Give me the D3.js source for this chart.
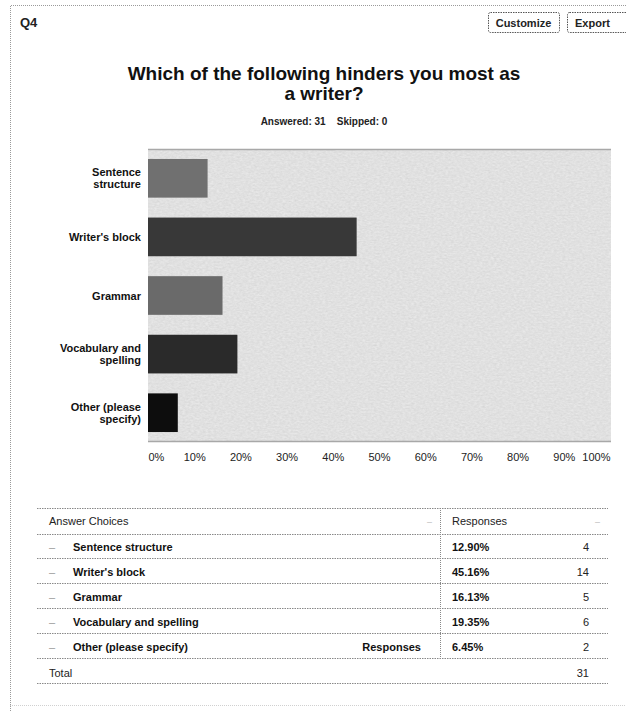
<!DOCTYPE html>
<html>
<head>
<meta charset="utf-8">
<script src="https://cdn.jsdelivr.net/npm/d3@7"></script>
<style>
  html, body { margin: 0; padding: 0; background: #fff; }
  svg { display: block; font-family: "Liberation Sans", Arial, sans-serif; }
</style>
</head>
<body>
<svg id="chart" width="626" height="711"></svg>
<script>
// Survey question data
const questionId = "Q4";
const titleLines = ["Which of the following hinders you most as", "a writer?"];
const summaryText = "Answered: 31    Skipped: 0";
const categories = ["Sentence structure", "Writer's block", "Grammar", "Vocabulary and spelling", "Other (please specify)"];
const axisLabelLines = [["Sentence", "structure"], ["Writer's block"], ["Grammar"], ["Vocabulary and", "spelling"], ["Other (please", "specify)"]];
const percents = [12.90, 45.16, 16.13, 19.35, 6.45];
const counts = [4, 14, 5, 6, 2];
const totalCount = 31;
const xTicks = [0, 10, 20, 30, 40, 50, 60, 70, 80, 90, 100];
const barColors = ["#707070", "#383838", "#6a6a6a", "#2c2c2c", "#0e0e0e"];

const svg = d3.select("#chart");
const defs = svg.append("defs");

// grainy texture for the plot background
const grain = defs.append("filter").attr("id", "grain").attr("x", 0).attr("y", 0).attr("width", 1).attr("height", 1);
grain.append("feTurbulence").attr("type", "fractalNoise").attr("baseFrequency", "0.35 0.6").attr("numOctaves", 2).attr("seed", 4).attr("result", "n");
grain.append("feColorMatrix").attr("in", "n").attr("type", "matrix")
  .attr("values", "0 0 0 0 0.6  0 0 0 0 0.6  0 0 0 0 0.6  0.45 0.45 0.45 0 -0.4").attr("result", "g");
grain.append("feComposite").attr("in", "g").attr("in2", "SourceGraphic").attr("operator", "in").attr("result", "gm");
grain.append("feMerge").selectAll("feMergeNode").data(["SourceGraphic", "gm"]).join("feMergeNode").attr("in", d => d);

const soft = defs.append("filter").attr("id", "soft");
soft.append("feGaussianBlur").attr("stdDeviation", 0.6);

const dotted = { stroke: "#8a8a8a", dash: "1.5,1" };

// card frame
svg.append("path")
  .attr("d", "M10.5,711 V5.5 H626")
  .attr("fill", "none").attr("stroke", "#9a9a9a").attr("stroke-dasharray", "1,1");
svg.append("line").attr("x1", 10).attr("x2", 626).attr("y1", 705.5).attr("y2", 705.5)
  .attr("stroke", "#d0d0d0").attr("stroke-dasharray", "1,1");

// header
svg.append("text").attr("x", 20).attr("y", 27).attr("font-size", 13).attr("font-weight", "bold").attr("fill", "#222").text(questionId);

const buttons = [{ label: "Customize", x0: 488, x1: 559 }, { label: "Export", x0: 567, x1: 630 }];
buttons.forEach(b => {
  svg.append("rect").attr("x", b.x0 + 0.5).attr("y", 12.5).attr("width", b.x1 - b.x0).attr("height", 20).attr("rx", 2)
    .attr("fill", "#fff").attr("stroke", "#555").attr("stroke-dasharray", "1.5,1");
  svg.append("text").attr("x", b.label === "Export" ? 575 : (b.x0 + b.x1) / 2).attr("y", 26.5)
    .attr("text-anchor", b.label === "Export" ? "start" : "middle")
    .attr("font-size", 11).attr("font-weight", "bold").attr("fill", "#222").text(b.label);
});

// title
svg.append("text").attr("text-anchor", "middle").attr("font-size", 19).attr("font-weight", "bold").attr("fill", "#111")
  .selectAll("tspan").data(titleLines).join("tspan")
  .attr("x", 324).attr("y", (d, i) => 80 + i * 20).text(d => d);

svg.append("text").attr("x", 324).attr("y", 125).attr("text-anchor", "middle").attr("font-size", 10).attr("font-weight", "bold")
  .attr("fill", "#222").attr("xml:space", "preserve").text(summaryText);

// bar chart
const plot = { left: 148, right: 611, top: 149, bottom: 442 };
const x = d3.scaleLinear().domain([0, 100]).range([plot.left, 610]);
const y = d3.scaleBand().domain(categories).range([plot.top, plot.bottom]).paddingInner(0.34).paddingOuter(0.17);

svg.append("rect").attr("x", plot.left).attr("y", plot.top).attr("width", plot.right - plot.left).attr("height", plot.bottom - plot.top)
  .attr("fill", "#e8e8e8").attr("filter", "url(#grain)");
svg.append("line").attr("x1", plot.left).attr("x2", plot.right).attr("y1", plot.top + 0.5).attr("y2", plot.top + 0.5).attr("stroke", "#a8a8a8").attr("stroke-width", 1.5);
svg.append("line").attr("x1", plot.left).attr("x2", plot.right).attr("y1", plot.bottom - 0.5).attr("y2", plot.bottom - 0.5).attr("stroke", "#a8a8a8").attr("stroke-width", 1.5);

svg.append("g").attr("filter", "url(#soft)")
  .selectAll("rect").data(categories).join("rect")
  .attr("x", x(0)).attr("y", d => y(d))
  .attr("width", (d, i) => x(percents[i]) - x(0)).attr("height", y.bandwidth())
  .attr("fill", (d, i) => barColors[i]);

// category labels
const catG = svg.append("g").attr("font-size", 11).attr("font-weight", "bold").attr("fill", "#111").attr("text-anchor", "end");
categories.forEach((c, i) => {
  const lines = axisLabelLines[i];
  const cy = y(c) + y.bandwidth() / 2;
  const t = catG.append("text");
  lines.forEach((ln, j) => {
    t.append("tspan").attr("x", 141).attr("y", cy + 4 + (j - (lines.length - 1) / 2) * 12).text(ln);
  });
});

// x axis labels
const xAxis = d3.axisBottom(x).tickValues(xTicks).tickSize(0).tickPadding(0).tickFormat(d => d + "%");
const xg = svg.append("g").attr("transform", `translate(0,${plot.bottom})`).call(xAxis);
xg.select(".domain").remove();
xg.selectAll("text").attr("font-size", 11).attr("font-family", "Liberation Sans, Arial, sans-serif").attr("fill", "#222")
  .attr("dy", null).attr("y", 19)
  .attr("text-anchor", d => d === 0 ? "start" : d === 100 ? "end" : "middle");

// responses table
const tbl = { left: 37, right: 608, divider: 440 };
const rowLines = [508, 534, 558, 583, 608, 633, 658, 683];
const rowCenters = [521, 547, 572, 597, 622, 647, 673];
rowLines.forEach(ly => {
  svg.append("line").attr("x1", tbl.left).attr("x2", tbl.right).attr("y1", ly + 0.5).attr("y2", ly + 0.5)
    .attr("stroke", "#888").attr("stroke-dasharray", dotted.dash);
});
svg.append("line").attr("x1", tbl.divider + 0.5).attr("x2", tbl.divider + 0.5).attr("y1", 508).attr("y2", 658)
  .attr("stroke", "#888").attr("stroke-dasharray", "1,1");

const tg = svg.append("g").attr("font-size", 11).attr("fill", "#222");
tg.append("text").attr("x", 49).attr("y", rowCenters[0] + 4).text("Answer Choices");
tg.append("text").attr("x", 452).attr("y", rowCenters[0] + 4).text("Responses");
[427, 595].forEach(mx => tg.append("text").attr("x", mx).attr("y", rowCenters[0] + 4).attr("fill", "#bbb").attr("font-size", 9).text("–"));

categories.forEach((c, i) => {
  const cy = rowCenters[i + 1] + 4;
  tg.append("text").attr("x", 49).attr("y", cy).attr("fill", "#999").text("–");
  tg.append("text").attr("x", 73).attr("y", cy).attr("font-weight", "bold").attr("fill", "#111").text(c);
  tg.append("text").attr("x", 452).attr("y", cy).attr("font-weight", "bold").attr("fill", "#111").text(percents[i].toFixed(2) + "%");
  tg.append("text").attr("x", 589).attr("y", cy).attr("text-anchor", "end").text(counts[i]);
});
tg.append("text").attr("x", 421).attr("y", rowCenters[5] + 4).attr("text-anchor", "end").attr("font-weight", "bold").attr("fill", "#111").text("Responses");
tg.append("text").attr("x", 49).attr("y", rowCenters[6] + 4).text("Total");
tg.append("text").attr("x", 589).attr("y", rowCenters[6] + 4).attr("text-anchor", "end").text(totalCount);
</script>
</body>
</html>
